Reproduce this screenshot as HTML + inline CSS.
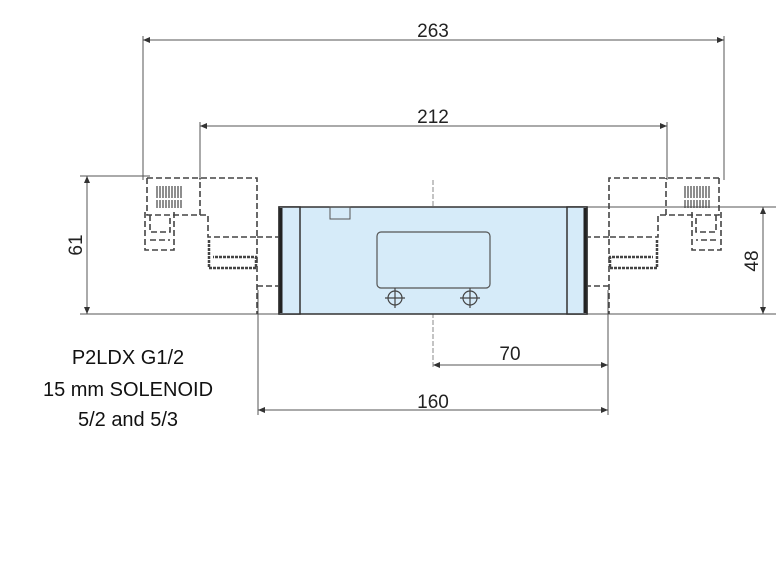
<!DOCTYPE html>
<html><head><style>body{margin:0;background:#fff}svg{display:block}</style></head><body>
<svg width="776" height="573" viewBox="0 0 776 573" xmlns="http://www.w3.org/2000/svg" font-family="Liberation Sans, sans-serif">
<defs>
<g id="sol" fill="none" stroke="#444" stroke-width="1.6" stroke-dasharray="6,3">
<path d="M147 178 H257 V314"/>
<path d="M147 178 V215 H200 V178"/>
<path d="M200 215 H208 V237 H257"/>
<path d="M257 286 H279"/>
<path d="M257 237 H279"/>
<path d="M145 212 V250 H174 V212"/>
<path d="M150 215 V232 H170 V215"/>
<path d="M150 240 H170"/>
<path d="M157 186 V198 M160 186 V198 M163 186 V198 M166 186 V198 M169 186 V198 M172 186 V198 M175 186 V198 M178 186 V198 M181 186 V198 M157 200 V208 M160 200 V208 M163 200 V208 M166 200 V208 M169 200 V208 M172 200 V208 M175 200 V208 M178 200 V208 M181 200 V208" stroke-dasharray="none" stroke-width="1.2"/>
<path d="M209 240 V268 H256 V257 H213" stroke-dasharray="3,1" stroke-width="2.5"/>
</g>
</defs>
<g stroke="#555" stroke-width="1" fill="none">
<path d="M143 40 H724 M143 36 V180 M724 36 V180"/>
<path d="M200 126 H667 M200 122 V180 M667 122 V180"/>
<path d="M80 176 H150 M80 314 H776 M87 176 V314"/>
<path d="M587 207 H776 M763 207 V314"/>
<path d="M258 290 V415 M608 290 V415 M258 410 H608 M433 365 H608"/>
<path d="M433 180 V368" stroke-dasharray="5,2" stroke="#888"/>
</g>
<g fill="#333">
<path d="M143 40 l7 -3 v6z M724 40 l-7 -3 v6z M200 126 l7 -3 v6z M667 126 l-7 -3 v6z M87 176 l-3 7 h6z M87 314 l-3 -7 h6z M763 207 l-3 7 h6z M763 314 l-3 -7 h6z M258 410 l7 -3 v6z M608 410 l-7 -3 v6z M433 365 l7 -3 v6z M608 365 l-7 -3 v6z"/>
</g>
<rect x="279" y="207" width="308" height="107" fill="#d6ebf9" stroke="#333" stroke-width="1.5"/>
<path d="M279 207 H300 V314 H279 Z M567 207 H587 V314 H567 Z" fill="#d6ebf9" stroke="#333" stroke-width="1.5"/>
<path d="M281 208 V313 M585 208 V313" stroke="#222" stroke-width="3"/>
<rect x="330" y="207" width="20" height="12" fill="none" stroke="#555"/>
<rect x="377" y="232" width="113" height="56" rx="4" fill="none" stroke="#555" stroke-width="1.2"/>
<g fill="none" stroke="#444" stroke-width="1.2">
<circle cx="395" cy="298" r="7"/><circle cx="470" cy="298" r="7"/>
<path d="M385 298 H405 M395 288 V308 M460 298 H480 M470 288 V308"/>
</g>
<use href="#sol"/>
<use href="#sol" transform="translate(866,0) scale(-1,1)"/>
<g font-size="19" fill="#222" text-anchor="middle">
<text x="433" y="37">263</text>
<text x="433" y="123">212</text>
<text x="510" y="360">70</text>
<text x="433" y="408">160</text>
<text transform="translate(82,245) rotate(-90)">61</text>
<text transform="translate(758,261) rotate(-90)">48</text>
</g>
<g font-size="20" fill="#111" text-anchor="middle">
<text x="128" y="364">P2LDX G1/2</text>
<text x="128" y="396">15 mm SOLENOID</text>
<text x="128" y="426">5/2 and 5/3</text>
</g>
</svg>
</body></html>
